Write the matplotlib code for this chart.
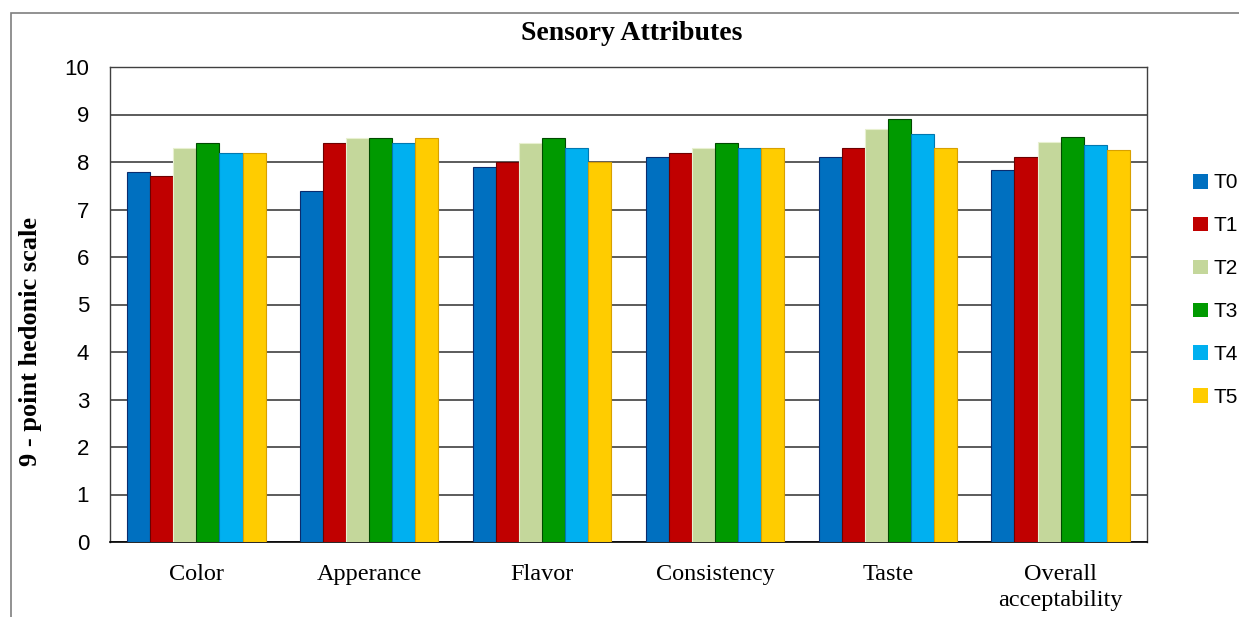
import numpy as np
import matplotlib.pyplot as plt
from matplotlib.patches import Rectangle

categories = ["Color", "Apperance", "Flavor", "Consistency", "Taste", "Overall\nacceptability"]
series = ["T0", "T1", "T2", "T3", "T4", "T5"]
values = {
    "T0": [7.8, 7.4, 7.9, 8.1, 8.1, 7.84],
    "T1": [7.7, 8.4, 8.0, 8.2, 8.3, 8.11],
    "T2": [8.3, 8.5, 8.4, 8.3, 8.7, 8.43],
    "T3": [8.4, 8.5, 8.5, 8.4, 8.9, 8.53],
    "T4": [8.2, 8.4, 8.3, 8.3, 8.6, 8.36],
    "T5": [8.2, 8.5, 8.0, 8.3, 8.3, 8.26],
}
colors = ["#0070C0", "#C00000", "#C4D79B", "#009A00", "#00B0F0", "#FFCC00"]
edges = ["#0A2C6E", "#6E0000", "#E8F0D0", "#004A00", "#0078B0", "#D8A000"]
yticks = list(range(0, 11))

fig = plt.figure(figsize=(12.39, 6.17), dpi=100)
ax = fig.add_axes([110 / 1239, 1 - 542 / 617, 1037 / 1239, 475 / 617])

# outer frame of the chart
fig.patches.append(Rectangle((11 / 1239, -0.05), 1.2, 1 - 13 / 617 + 0.05,
                             transform=fig.transFigure, fill=False,
                             edgecolor="#7f7f7f", linewidth=1.2))

x = np.arange(len(categories))
w = 0.8 / len(series)
for i, s in enumerate(series):
    ax.bar(x - 0.4 + w * (i + 0.5), values[s], width=w, color=colors[i],
           edgecolor=edges[i], linewidth=0.8, label=s, zorder=3)

ax.set_xlim(-0.5, len(categories) - 0.5)
ax.set_ylim(0, 10)
ax.set_yticks(yticks)
ax.set_yticklabels([str(t) for t in yticks], fontsize=16, family="Liberation Sans")
ax.set_xticks(x)
ax.set_xticklabels(categories, fontsize=17.5, family="Liberation Serif", linespacing=1.3)
ax.tick_params(axis="x", length=0, pad=16)
ax.tick_params(axis="y", length=0, pad=15)
ax.grid(axis="y", color="#404040", linewidth=1.2, zorder=0)
for side in ["top", "left", "right"]:
    ax.spines[side].set_color("#404040")
    ax.spines[side].set_linewidth(1.0)
ax.spines["bottom"].set_color("black")
ax.spines["bottom"].set_linewidth(1.2)

# y label sits a little below the axes centre in the original
fig.text(31 / 1239, 1 - 342 / 617, "9 - point hedonic scale", fontsize=19, fontweight="bold",
         family="Liberation Serif", rotation=90, ha="center", va="center")
fig.text(632 / 1239, 1 - 33 / 617, "Sensory Attributes", fontsize=20, fontweight="bold",
         family="Liberation Serif", ha="center", va="center")

leg = ax.legend(loc="center left", bbox_to_anchor=(1.044, 0.53), frameon=False,
                prop={"family": "Liberation Sans", "size": 15},
                handlelength=0.72, handleheight=0.72, handletextpad=0.3,
                labelspacing=1.15, borderaxespad=0.0, borderpad=0.0)
for h in leg.legend_handles:
    h.set_edgecolor("none")

fig.savefig("out.png", dpi=100)
